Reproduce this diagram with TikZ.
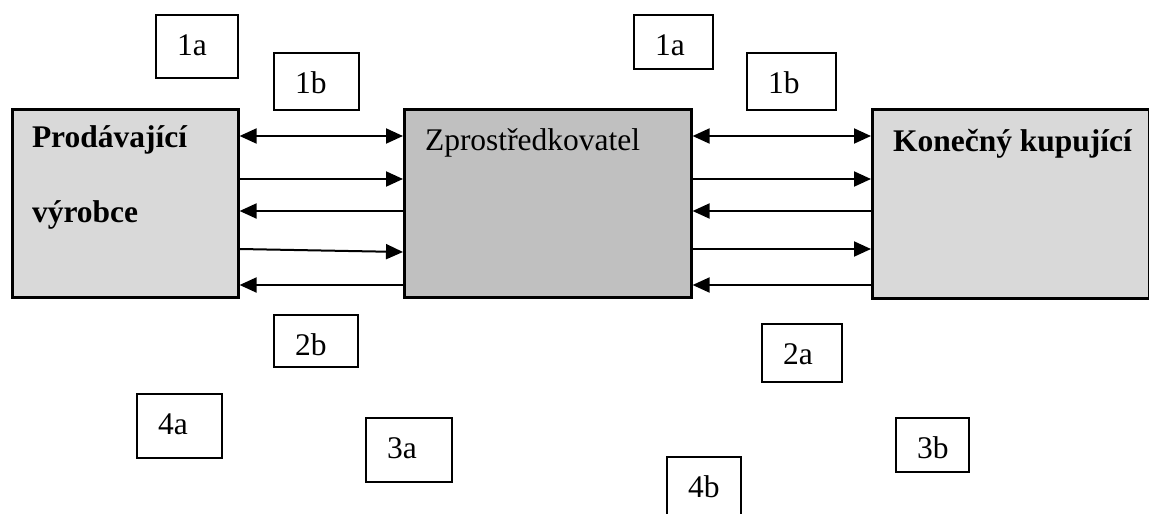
\documentclass[tikz,border=0pt]{standalone}
\usepackage{fontspec}
\setmainfont{Liberation Serif}
\usetikzlibrary{arrows.meta}
\definecolor{clight}{HTML}{D9D9D9}
\definecolor{cmid}{HTML}{C0C0C0}
\tikzset{
  every picture/.style={font=\fontsize{31.5}{38}\selectfont, line width=2pt},
  box/.style={draw=black, fill=#1, line width=2.6pt, inner sep=0pt, anchor=north west},
  box/.default=clight,
  title/.style={inner sep=0pt, anchor=base west, font=\fontsize{31.5}{38}\selectfont\bfseries},
  plain/.style={inner sep=0pt, anchor=base west},
  tag/.style 2 args={draw=black, line width=2pt, inner sep=0pt, anchor=north west, align=left,
    text width=#1pt, text height=40pt, text depth=#2pt, execute at begin node={\hspace*{21pt}}},
  flow/.style={line width=2pt, >={Triangle[length=17pt, width=15pt]}},
}

\begin{document}
\begin{tikzpicture}[x=1pt, y=-1pt]
  \useasboundingbox (0,0) rectangle (1149,514);
  % the three parties
  \node[box, minimum width=226pt, minimum height=188pt] (prod) at (11,108) {};
  \node[box=cmid, minimum width=287pt, minimum height=188pt] (zpr) at (403,108) {};
  \node[box, minimum width=277pt, minimum height=189pt] (kup) at (871,108) {};
  \node[title] (prodt) at (31,147) {Prodávající};
  \node[title] (prodv) at (31,222) {výrobce};
  \node[plain] (zprt) at (424,150) {Zprostředkovatel};
  \node[title] (kupt) at (892,151) {Konečný kupující};
  % heights of the five flows
  \foreach \y [count=\i] in {136,179,211,249,285}
    \coordinate (row\i) at (0,\y);
  \coordinate (row4r) at (0,252);
  % flows between seller and middleman
  \draw[flow, <->] (prod.east |- row1) -- (zpr.west |- row1);
  \draw[flow, ->] (prod.east |- row2) -- (zpr.west |- row2);
  \draw[flow, <-] (prod.east |- row3) -- (zpr.west |- row3);
  \draw[flow, ->] (prod.east |- row4) -- (zpr.west |- row4r);
  \draw[flow, <-] (prod.east |- row5) -- (zpr.west |- row5);
  % flows between middleman and buyer
  \draw[flow, <->] (zpr.east |- row1) -- (kup.west |- row1);
  \draw[flow, ->] (zpr.east |- row2) -- (kup.west |- row2);
  \draw[flow, <-] (zpr.east |- row3) -- (kup.west |- row3);
  \draw[flow, ->] (zpr.east |- row4) -- (kup.west |- row4);
  \draw[flow, <-] (zpr.east |- row5) -- (kup.west |- row5);
  % numbered tags
  \node[tag={82}{23}] (l1a) at (155,14) {1a};
  \node[tag={85}{17}] (l1b) at (273,52) {1b};
  \node[tag={79}{14}] (r1a) at (633,14) {1a};
  \node[tag={89}{17}] (r1b) at (746,52) {1b};
  \node[tag={84}{12}] (l2b) at (273,314) {2b};
  \node[tag={80}{18}] (r2a) at (761,323) {2a};
  \node[tag={85}{24}] (l4a) at (136,393) {4a};
  \node[tag={86}{24}] (l3a) at (365,417) {3a};
  \node[tag={73}{14}] (r3b) at (895,417) {3b};
  \node[tag={74}{23}] (m4b) at (666,456) {4b};
\end{tikzpicture}
\end{document}
